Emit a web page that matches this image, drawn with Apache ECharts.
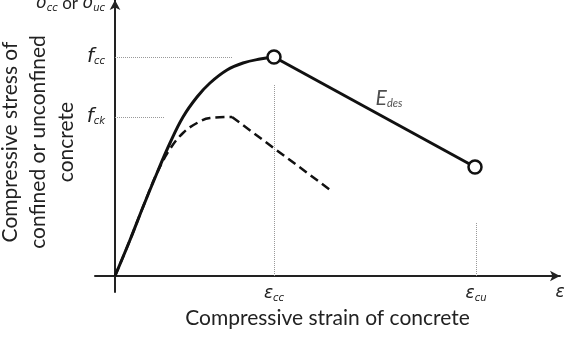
<!DOCTYPE html>
<html>
<head>
<meta charset="utf-8">
<script src="https://cdn.jsdelivr.net/npm/echarts@6/dist/echarts.min.js"></script>
<style>
  html, body { margin: 0; padding: 0; background: #fff; }
  #chart { width: 569px; height: 340px; }
</style>
</head>
<body>
<div id="chart"></div>
<script>
// strain / stress in normalised units
var epsCC = 1.59, epsCU = 3.61, fcc = 2.19, fck = 1.59;
var xMin = -0.2, xMax = 4.45, yMin = -0.16, yMax = 2.76;

var confinedRise = [[0, 0], [0.15, 0.36], [0.28, 0.69], [0.42, 1.03], [0.55, 1.33], [0.68, 1.59],
                    [0.82, 1.79], [0.95, 1.93], [1.12, 2.06], [1.28, 2.13], [1.45, 2.17], [1.59, 2.19]];
var confinedFall = [[1.59, 2.19], [3.60, 1.09]];
var unconfinedRise = [[0, 0], [0.15, 0.36], [0.28, 0.69], [0.42, 1.03], [0.55, 1.27], [0.68, 1.43],
                      [0.82, 1.53], [0.95, 1.58], [1.17, 1.59]];
var unconfinedFall = [[1.17, 1.59], [2.18, 0.84]];
var circles = [[1.59, 2.19], [3.60, 1.09]];
var guides = [
    [[0, 2.19], [1.18, 2.19]],
    [[0, 1.59], [0.50, 1.59]],
    [[1.59, 0], [1.59, 1.92]],
    [[3.61, 0], [3.61, 0.54]]
];
var xLabels = {};
xLabels[epsCC] = '{e|ε}{s|cc}';
xLabels[epsCU] = '{e|ε}{s|cu}';
xLabels[xMax] = '{e|ε}';
var yLabels = {};
yLabels[fcc] = '{f|f}{s|cc}';
yLabels[fck] = '{f|f}{s|ck}';
var edesLabel = [[2.74, 1.78]];

var txt = '#222';
var font = 'Lato';
var mathFont = 'DejaVu Sans';
var mathRich = {
    e: { fontFamily: mathFont, fontStyle: 'italic', fontSize: 17, color: txt },
    f: { fontFamily: mathFont, fontStyle: 'italic', fontSize: 20, color: txt },
    s: { fontFamily: mathFont, fontStyle: 'italic', fontSize: 10, color: txt, padding: [9, 0, 0, 0] },
    t: { fontFamily: font, fontSize: 17, color: txt }
};

var chart = echarts.init(document.getElementById('chart'));

var option = {
    backgroundColor: '#fff',
    animation: false,
    grid: { left: 95, right: 9, top: 0, bottom: 48, outerBoundsMode: 'none' },
    xAxis: {
        type: 'value', min: xMin, max: xMax,
        splitLine: { show: false },
        axisTick: { show: false },
        axisLine: { onZero: true, lineStyle: { color: txt, width: 2 }, symbol: ['none', 'arrow'], symbolSize: [8, 10] },
        axisLabel: {
            customValues: [epsCC, epsCU, xMax],
            margin: -8,
            formatter: function (v) { return xLabels[v] || ''; },
            rich: mathRich
        },
        name: 'Compressive strain of concrete',
        nameLocation: 'middle',
        nameGap: 13,
        nameTextStyle: { fontFamily: font, fontSize: 21, color: txt }
    },
    yAxis: {
        type: 'value', min: yMin, max: yMax,
        splitLine: { show: false },
        axisTick: { show: false },
        axisLine: { onZero: true, lineStyle: { color: txt, width: 2 }, symbol: ['none', 'arrow'], symbolSize: [8, 10] },
        axisLabel: {
            customValues: [fck, fcc],
            margin: -10,
            formatter: function (v) { return yLabels[v] || ''; },
            rich: mathRich
        },
        name: '{e|σ}{s|cc}{t| or }{e|σ}{s|uc}',
        nameLocation: 'end',
        nameGap: -4,
        nameTextStyle: { align: 'right', verticalAlign: 'middle', padding: [0, 10, 0, 0], rich: mathRich }
    },
    graphic: [{
        type: 'text',
        x: 38, y: 142,
        rotation: Math.PI / 2,
        style: {
            text: 'Compressive stress of\nconfined or unconfined\nconcrete',
            fontFamily: font, fontSize: 21, lineHeight: 28,
            fill: txt, align: 'center', verticalAlign: 'middle'
        }
    }],
    series: [
        {
            type: 'line', data: unconfinedRise, smooth: 0.4, showSymbol: false, z: 2,
            lineStyle: { color: '#111', width: 2.5, type: [9, 5] }
        },
        {
            type: 'line', data: unconfinedFall, showSymbol: false, z: 2,
            lineStyle: { color: '#111', width: 2.5, type: [9, 5] }
        },
        {
            type: 'line', data: confinedRise, smooth: 0.4, showSymbol: false, z: 3,
            lineStyle: { color: '#111', width: 3 }
        },
        {
            type: 'line', data: confinedFall, showSymbol: false, z: 3,
            lineStyle: { color: '#111', width: 3 },
            markLine: {
                silent: true, symbol: 'none', label: { show: false },
                lineStyle: { color: '#999', width: 1, type: 'dotted' },
                data: guides.map(function (g) { return [{ coord: g[0] }, { coord: g[1] }]; })
            }
        },
        {
            type: 'scatter', data: circles, symbol: 'circle', symbolSize: 13, z: 5,
            itemStyle: { color: '#fff', borderColor: '#111', borderWidth: 2.5, opacity: 1 }
        },
        {
            type: 'scatter', data: edesLabel, symbolSize: 0, z: 5,
            label: {
                show: true, position: 'inside',
                formatter: '{e|E}{s|des}',
                rich: {
                    e: { fontFamily: font, fontStyle: 'italic', fontSize: 21, color: txt },
                    s: { fontFamily: font, fontStyle: 'italic', fontSize: 11, color: txt, padding: [10, 0, 0, 0] }
                }
            }
        }
    ]
};

chart.setOption(option);
window.onresize = chart.resize;
</script>
</body>
</html>
